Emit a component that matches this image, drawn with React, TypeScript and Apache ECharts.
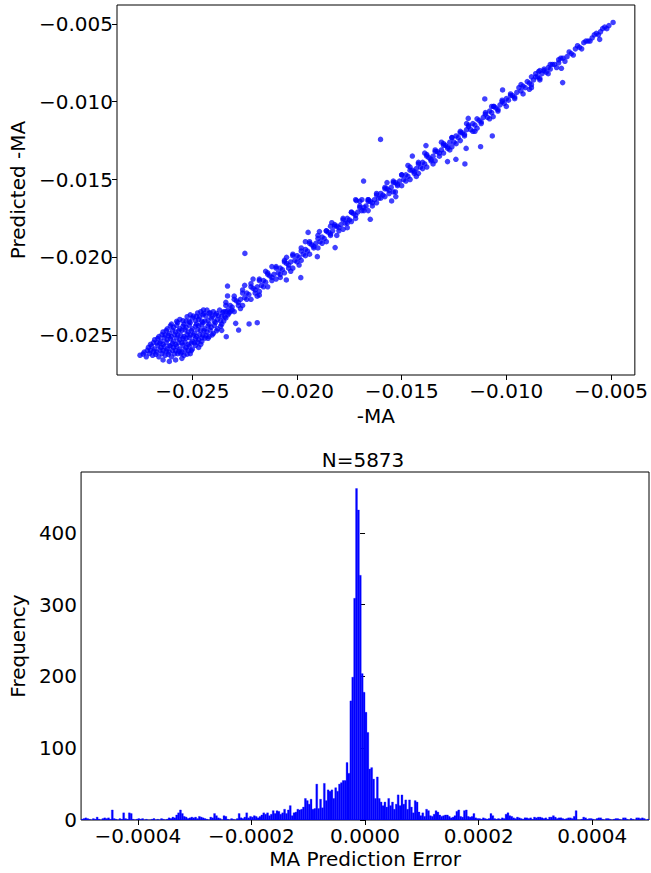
import React, { useEffect, useRef } from 'react';
import * as echarts from 'echarts';

const FONT = 'DejaVu Sans';
const BLUE = '#0000ff';

// ---- top panel: actual vs predicted -MA ----
const topXTicks = [-0.025, -0.02, -0.015, -0.01, -0.005];
const topYTicks = [-0.025, -0.02, -0.015, -0.01, -0.005];

const bandPoints: [number, number][] = [
  [-0.0049,-0.0049],[-0.0051,-0.0051],[-0.0053,-0.0052],[-0.0055,-0.0055],[-0.0057,-0.0056],[-0.0059,-0.0059],
  [-0.0061,-0.0061],[-0.0063,-0.0062],[-0.0065,-0.0065],[-0.0067,-0.0066],[-0.0069,-0.0069],[-0.0071,-0.0071],
  [-0.0073,-0.0072],[-0.0075,-0.0075],[-0.0077,-0.0076],[-0.0079,-0.0079],[-0.0080,-0.0078],[-0.0081,-0.0081],
  [-0.0083,-0.0082],[-0.0084,-0.0085],[-0.0085,-0.0084],[-0.0087,-0.0086],[-0.0088,-0.0089],[-0.0089,-0.0088],
  [-0.0091,-0.0091],[-0.0092,-0.0090],[-0.0093,-0.0093],[-0.0095,-0.0094],[-0.0096,-0.0097],[-0.0097,-0.0096],
  [-0.0099,-0.0099],[-0.0100,-0.0098],[-0.0101,-0.0101],[-0.0103,-0.0102],[-0.0104,-0.0105],[-0.0105,-0.0104],
  [-0.0107,-0.0107],[-0.0108,-0.0106],[-0.0109,-0.0110],[-0.0111,-0.0110],[-0.0112,-0.0113],[-0.0113,-0.0112],
  [-0.0115,-0.0115],[-0.0116,-0.0114],[-0.0117,-0.0118],[-0.0119,-0.0118],[-0.0120,-0.0121],[-0.0121,-0.0120],
  [-0.0123,-0.0123],[-0.0124,-0.0122],[-0.0125,-0.0126],[-0.0127,-0.0126],[-0.0128,-0.0129],[-0.0129,-0.0128],
  [-0.0131,-0.0131],[-0.0132,-0.0133],[-0.0133,-0.0132],[-0.0135,-0.0135],[-0.0136,-0.0137],[-0.0137,-0.0136],
  [-0.0139,-0.0140],[-0.0140,-0.0139],[-0.0141,-0.0142],[-0.0143,-0.0143],[-0.0144,-0.0145],[-0.0145,-0.0144],
  [-0.0147,-0.0148],[-0.0148,-0.0147],[-0.0149,-0.0150],[-0.0151,-0.0151],[-0.0152,-0.0153],[-0.0153,-0.0152],
  [-0.0155,-0.0155],[-0.0156,-0.0157],[-0.0157,-0.0156],[-0.0159,-0.0160],[-0.0160,-0.0159],[-0.0161,-0.0162],
  [-0.0163,-0.0163],[-0.0164,-0.0165],[-0.0165,-0.0164],[-0.0167,-0.0167],[-0.0168,-0.0168],[-0.0169,-0.0170],
  [-0.0171,-0.0171],[-0.0172,-0.0173],[-0.0173,-0.0172],[-0.0175,-0.0176],[-0.0176,-0.0175],[-0.0177,-0.0178],
  [-0.0179,-0.0179],[-0.0180,-0.0181],[-0.0181,-0.0180],[-0.0183,-0.0183],[-0.0184,-0.0185],[-0.0185,-0.0184],
  [-0.0187,-0.0188],[-0.0188,-0.0187],[-0.0189,-0.0190],[-0.0191,-0.0191],[-0.0192,-0.0193],[-0.0193,-0.0192],
  [-0.0195,-0.0196],[-0.0196,-0.0195],[-0.0197,-0.0198],[-0.0199,-0.0200],[-0.0200,-0.0199],[-0.0201,-0.0202],
  [-0.0203,-0.0203],[-0.0204,-0.0205],[-0.0205,-0.0204],[-0.0207,-0.0208],[-0.0208,-0.0207],[-0.0209,-0.0210],
  [-0.0211,-0.0211],[-0.0212,-0.0213],[-0.0213,-0.0212],[-0.0215,-0.0216],[-0.0216,-0.0215],[-0.0217,-0.0218],
  [-0.0219,-0.0219],[-0.0220,-0.0221],[-0.0221,-0.0220],[-0.0223,-0.0224],[-0.0224,-0.0223],[-0.0225,-0.0226],
  [-0.0227,-0.0227],[-0.0228,-0.0229],[-0.0229,-0.0228],[-0.0231,-0.0232],[-0.0232,-0.0231],[-0.0233,-0.0234],
  [-0.0235,-0.0235],
];

const bandUpper: [number, number][] = [
  [-0.0054,-0.0053],[-0.0058,-0.0057],[-0.0062,-0.0061],[-0.0066,-0.0064],[-0.0070,-0.0068],[-0.0074,-0.0072],
  [-0.0078,-0.0076],[-0.0082,-0.0080],[-0.0086,-0.0084],[-0.0090,-0.0087],[-0.0094,-0.0091],[-0.0098,-0.0096],
  [-0.0102,-0.0100],[-0.0106,-0.0103],[-0.0110,-0.0108],[-0.0114,-0.0111],[-0.0118,-0.0116],[-0.0122,-0.0120],
  [-0.0126,-0.0123],[-0.0130,-0.0128],[-0.0134,-0.0132],[-0.0138,-0.0135],[-0.0142,-0.0140],[-0.0146,-0.0144],
  [-0.0150,-0.0147],[-0.0154,-0.0152],[-0.0158,-0.0156],[-0.0162,-0.0159],[-0.0166,-0.0164],[-0.0170,-0.0168],
  [-0.0174,-0.0171],[-0.0178,-0.0176],[-0.0182,-0.0180],[-0.0186,-0.0183],[-0.0190,-0.0188],[-0.0194,-0.0191],
  [-0.0198,-0.0196],[-0.0202,-0.0199],[-0.0206,-0.0203],[-0.0210,-0.0207],[-0.0214,-0.0211],[-0.0218,-0.0215],
  [-0.0222,-0.0219],[-0.0226,-0.0223],[-0.0230,-0.0227],[-0.0234,-0.0231],
];

const bandLower: [number, number][] = [
  [-0.0052,-0.0053],[-0.0056,-0.0057],[-0.0060,-0.0061],[-0.0064,-0.0066],[-0.0068,-0.0070],[-0.0072,-0.0074],
  [-0.0076,-0.0078],[-0.0080,-0.0082],[-0.0084,-0.0086],[-0.0088,-0.0091],[-0.0092,-0.0095],[-0.0096,-0.0098],
  [-0.0100,-0.0103],[-0.0104,-0.0106],[-0.0108,-0.0111],[-0.0112,-0.0114],[-0.0116,-0.0119],[-0.0120,-0.0122],
  [-0.0124,-0.0127],[-0.0128,-0.0130],[-0.0132,-0.0135],[-0.0136,-0.0138],[-0.0140,-0.0143],[-0.0144,-0.0146],
  [-0.0148,-0.0151],[-0.0152,-0.0154],[-0.0156,-0.0159],[-0.0160,-0.0162],[-0.0164,-0.0167],[-0.0168,-0.0170],
  [-0.0172,-0.0175],[-0.0176,-0.0178],[-0.0180,-0.0183],[-0.0184,-0.0186],[-0.0188,-0.0191],[-0.0192,-0.0194],
  [-0.0196,-0.0199],[-0.0200,-0.0203],[-0.0204,-0.0207],[-0.0208,-0.0211],[-0.0212,-0.0215],[-0.0216,-0.0219],
  [-0.0220,-0.0223],[-0.0224,-0.0227],[-0.0228,-0.0231],[-0.0232,-0.0235],
];

const spreadPoints: [number, number][] = [
  [-0.0086,-0.0082],[-0.0084,-0.0080],[-0.0088,-0.0084],[-0.0079,-0.0076],[-0.0075,-0.0073],[-0.0082,-0.0079],
  [-0.0098,-0.0095],[-0.0102,-0.0099],[-0.0106,-0.0103],[-0.0110,-0.0107],[-0.0114,-0.0117],[-0.0118,-0.0115],
  [-0.0122,-0.0119],[-0.0122,-0.0125],[-0.0126,-0.0123],[-0.0126,-0.0129],[-0.0130,-0.0127],[-0.0130,-0.0133],
  [-0.0134,-0.0131],[-0.0134,-0.0138],[-0.0138,-0.0134],[-0.0138,-0.0142],[-0.0142,-0.0139],[-0.0142,-0.0146],
  [-0.0146,-0.0142],[-0.0146,-0.0150],[-0.0150,-0.0147],[-0.0150,-0.0154],[-0.0154,-0.0151],[-0.0154,-0.0158],
  [-0.0158,-0.0155],[-0.0158,-0.0161],[-0.0162,-0.0160],[-0.0162,-0.0165],[-0.0166,-0.0163],[-0.0166,-0.0170],
  [-0.0170,-0.0167],[-0.0174,-0.0171],[-0.0174,-0.0177],[-0.0178,-0.0175],[-0.0178,-0.0182],[-0.0182,-0.0179],
  [-0.0186,-0.0183],[-0.0186,-0.0190],[-0.0190,-0.0186],[-0.0190,-0.0194],[-0.0194,-0.0190],[-0.0194,-0.0198],
  [-0.0198,-0.0194],[-0.0198,-0.0202],[-0.0202,-0.0198],[-0.0202,-0.0207],[-0.0206,-0.0202],[-0.0206,-0.0210],
  [-0.0210,-0.0206],[-0.0210,-0.0214],[-0.0214,-0.0210],[-0.0214,-0.0219],[-0.0218,-0.0214],[-0.0218,-0.0222],
  [-0.0222,-0.0217],[-0.0222,-0.0227],[-0.0226,-0.0221],[-0.0226,-0.0231],[-0.0230,-0.0225],[-0.0230,-0.0235],
  [-0.0234,-0.0229],[-0.0234,-0.0239],[-0.0172,-0.0163],[-0.0169,-0.0163],[-0.0166,-0.0163],
  [-0.0212,-0.0206],[-0.0208,-0.0213],[-0.0205,-0.0200],[-0.0215,-0.0209],[-0.0203,-0.0209],[-0.0219,-0.0225],
  [-0.0221,-0.0214],[-0.0225,-0.0218],[-0.0227,-0.0233],[-0.0199,-0.0205],[-0.0196,-0.0190],[-0.0184,-0.0180],
  [-0.0181,-0.0186],[-0.0170,-0.0164],[-0.0176,-0.0181],[-0.0157,-0.0152],[-0.0153,-0.0158],[-0.0147,-0.0141],
  [-0.0143,-0.0148],[-0.0139,-0.0133],[-0.0135,-0.0140],[-0.0131,-0.0126],[-0.0127,-0.0131],[-0.0119,-0.0114],
  [-0.0115,-0.0119],[-0.0107,-0.0103],[-0.0093,-0.0089],[-0.0089,-0.0092],
];

const blobPoints: [number, number][] = [
  [-0.0264,-0.0266],[-0.0261,-0.0267],[-0.0258,-0.0266],[-0.0255,-0.0265],
  [-0.0275,-0.0263],[-0.0272,-0.0264],[-0.0269,-0.0263],[-0.0266,-0.0264],[-0.0263,-0.0263],[-0.0260,-0.0264],
  [-0.0257,-0.0262],[-0.0254,-0.0263],[-0.0251,-0.0262],
  [-0.0273,-0.0261],[-0.0270,-0.0260],[-0.0267,-0.0261],[-0.0264,-0.0260],[-0.0261,-0.0261],[-0.0258,-0.0260],
  [-0.0255,-0.0261],[-0.0252,-0.0260],
  [-0.0271,-0.0258],[-0.0268,-0.0259],[-0.0265,-0.0258],[-0.0262,-0.0259],[-0.0259,-0.0258],[-0.0256,-0.0259],
  [-0.0253,-0.0258],[-0.0250,-0.0259],[-0.0247,-0.0258],
  [-0.0270,-0.0256],[-0.0267,-0.0255],[-0.0264,-0.0256],[-0.0261,-0.0257],[-0.0258,-0.0256],[-0.0255,-0.0255],
  [-0.0252,-0.0256],[-0.0249,-0.0255],[-0.0246,-0.0256],
  [-0.0268,-0.0253],[-0.0265,-0.0254],[-0.0262,-0.0253],[-0.0259,-0.0254],[-0.0256,-0.0253],[-0.0253,-0.0252],
  [-0.0250,-0.0254],[-0.0247,-0.0253],[-0.0244,-0.0252],
  [-0.0266,-0.0251],[-0.0263,-0.0250],[-0.0260,-0.0251],[-0.0257,-0.0250],[-0.0254,-0.0251],[-0.0251,-0.0250],
  [-0.0248,-0.0251],[-0.0245,-0.0250],[-0.0242,-0.0251],
  [-0.0264,-0.0248],[-0.0261,-0.0249],[-0.0258,-0.0248],[-0.0255,-0.0247],[-0.0252,-0.0248],[-0.0249,-0.0249],
  [-0.0246,-0.0247],[-0.0243,-0.0248],[-0.0240,-0.0249],
  [-0.0262,-0.0246],[-0.0259,-0.0245],[-0.0256,-0.0246],[-0.0253,-0.0245],[-0.0250,-0.0246],[-0.0247,-0.0244],
  [-0.0244,-0.0246],[-0.0241,-0.0245],[-0.0238,-0.0246],[-0.0236,-0.0247],
  [-0.0260,-0.0243],[-0.0257,-0.0242],[-0.0254,-0.0243],[-0.0251,-0.0242],[-0.0248,-0.0243],[-0.0245,-0.0242],
  [-0.0242,-0.0243],[-0.0239,-0.0242],[-0.0236,-0.0243],
  [-0.0256,-0.0240],[-0.0253,-0.0241],[-0.0250,-0.0239],[-0.0247,-0.0240],[-0.0244,-0.0241],[-0.0241,-0.0239],
  [-0.0238,-0.0240],[-0.0235,-0.0241],
  [-0.0251,-0.0237],[-0.0248,-0.0238],[-0.0245,-0.0237],[-0.0242,-0.0236],[-0.0239,-0.0237],[-0.0236,-0.0238],
  [-0.0233,-0.0237],
  [-0.0246,-0.0235],[-0.0243,-0.0234],[-0.0240,-0.0235],[-0.0237,-0.0234],[-0.0234,-0.0235],[-0.0231,-0.0234],
];

const blobFill: [number, number][] = [
  [-0.02735,-0.02622],[-0.02705,-0.02618],[-0.02675,-0.02624],[-0.02645,-0.02619],[-0.02615,-0.02625],[-0.02585,-0.02621],[-0.02555,-0.02618],[-0.02525,-0.02623],
  [-0.02715,-0.02598],[-0.02685,-0.02603],[-0.02655,-0.02597],[-0.02625,-0.02602],[-0.02595,-0.02599],[-0.02565,-0.02604],[-0.02535,-0.02596],[-0.02505,-0.02601],
  [-0.02695,-0.02572],[-0.02665,-0.02568],[-0.02635,-0.02574],[-0.02605,-0.02569],[-0.02575,-0.02573],[-0.02545,-0.02567],[-0.02515,-0.02571],[-0.02485,-0.02566],
  [-0.02685,-0.02548],[-0.02655,-0.02552],[-0.02625,-0.02547],[-0.02595,-0.02553],[-0.02565,-0.02549],[-0.02535,-0.02546],[-0.02505,-0.02551],[-0.02475,-0.02547],[-0.02455,-0.02541],
  [-0.02665,-0.02522],[-0.02635,-0.02518],[-0.02605,-0.02524],[-0.02575,-0.02519],[-0.02545,-0.02523],[-0.02515,-0.02517],[-0.02485,-0.02522],[-0.02455,-0.02518],[-0.02425,-0.02521],
  [-0.02645,-0.02498],[-0.02615,-0.02503],[-0.02585,-0.02497],[-0.02555,-0.02502],[-0.02525,-0.02496],[-0.02495,-0.02501],[-0.02465,-0.02497],[-0.02435,-0.02503],[-0.02405,-0.02499],
  [-0.02625,-0.02472],[-0.02595,-0.02468],[-0.02565,-0.02473],[-0.02535,-0.02467],[-0.02505,-0.02471],[-0.02475,-0.02466],[-0.02445,-0.02472],[-0.02415,-0.02468],[-0.02385,-0.02473],
  [-0.02605,-0.02441],[-0.02575,-0.02438],[-0.02545,-0.02443],[-0.02515,-0.02437],[-0.02485,-0.02442],[-0.02455,-0.02436],[-0.02425,-0.02441],[-0.02395,-0.02438],[-0.02365,-0.02443],
  [-0.02575,-0.02412],[-0.02545,-0.02408],[-0.02515,-0.02413],[-0.02485,-0.02407],[-0.02455,-0.02411],[-0.02425,-0.02406],[-0.02395,-0.02412],[-0.02365,-0.02409],
  [-0.02525,-0.02382],[-0.02495,-0.02378],[-0.02465,-0.02383],[-0.02435,-0.02377],[-0.02405,-0.02381],[-0.02375,-0.02376],[-0.02345,-0.02382],
  [-0.02475,-0.02358],[-0.02445,-0.02362],[-0.02415,-0.02357],[-0.02385,-0.02361],[-0.02355,-0.02356],[-0.02325,-0.02359],
];

const outlierPoints: [number, number][] = [
  [-0.00554,-0.00599],[-0.00731,-0.00877],[-0.00737,-0.00785],[-0.00846,-0.00806],[-0.01018,-0.00924],
  [-0.01103,-0.00982],[-0.01067,-0.01220],[-0.01063,-0.01096],[-0.01182,-0.01107],[-0.01123,-0.01289],
  [-0.01192,-0.01300],[-0.01198,-0.01400],[-0.01281,-0.01385],[-0.01241,-0.01370],[-0.01384,-0.01282],
  [-0.01449,-0.01349],[-0.01601,-0.01242],[-0.01682,-0.01510],[-0.01716,-0.01636],[-0.01650,-0.01756],
  [-0.01548,-0.01638],[-0.01528,-0.01610],[-0.01834,-0.01778],[-0.01893,-0.01835],[-0.01947,-0.01840],
  [-0.01903,-0.01996],[-0.01818,-0.01938],[-0.02249,-0.01975],[-0.01982,-0.02131],[-0.02051,-0.02146],
  [-0.02332,-0.02185],[-0.02180,-0.02243],[-0.02190,-0.02421],[-0.02229,-0.02429],[-0.02293,-0.02425],
  [-0.02332,-0.02249],[-0.02447,-0.02339],[-0.02279,-0.02468],[-0.02338,-0.02511],
];

// ---- bottom panel: histogram of prediction error ----
const histTitle = 'N=5873';
const histXTicks = [-0.0004, -0.0002, 0, 0.0002, 0.0004];
const histYTicks = [0, 100, 200, 300, 400];
const binStart = -0.0005;
const binWidth = 0.001 / 300;
const histCounts = [
  1,2,3,2,1,0,2,1,4,1,
  0,2,3,2,3,1,14,2,1,0,
  2,1,10,2,1,10,9,1,0,1,
  2,1,2,0,1,0,0,1,2,0,
  1,0,2,1,0,1,3,2,4,3,
  7,10,14,9,5,4,2,3,4,3,
  4,2,5,4,3,2,1,0,4,3,
  9,6,3,2,0,6,5,1,0,2,
  1,0,2,9,3,2,4,10,3,5,
  4,6,5,3,5,7,10,8,10,6,
  8,13,9,13,12,8,10,15,9,14,
  20,6,10,11,15,14,15,18,30,27,
  22,29,15,16,50,16,29,17,51,27,
  42,40,42,30,45,40,50,52,55,55,
  80,65,166,199,309,462,432,341,204,178,
  150,122,71,73,57,30,60,30,25,20,
  25,18,30,20,25,15,22,35,20,35,
  22,28,15,28,18,10,27,25,11,6,
  10,5,15,13,6,5,8,13,11,7,
  5,6,7,7,5,3,4,6,12,14,
  5,4,13,14,5,4,5,9,3,2,
  2,1,3,2,1,2,9,6,2,1,
  2,1,3,2,8,10,6,5,3,2,
  4,3,2,1,3,3,2,3,1,4,
  3,4,4,3,2,3,1,4,4,6,
  4,2,3,3,2,1,2,3,3,2,
  5,13,0,0,1,4,3,1,2,2,
  1,0,2,3,3,1,0,2,2,1,
  0,1,2,2,1,0,3,3,1,0,
  2,1,0,3,3,2,3,2,0,1,
];

const minus = (s: string) => s.replace('-', '\u2212');

export default function App() {
  const ref = useRef<HTMLDivElement>(null);
  useEffect(() => {
    const chart = echarts.init(ref.current!, undefined, { renderer: 'svg' });
    const txt = { fontSize: 20, color: '#000', fontFamily: FONT };
    const histData = histCounts.map((c, i) => [binStart + i * binWidth, binStart + (i + 1) * binWidth, c]);
    const scatterData = [...bandPoints, ...bandUpper, ...bandLower, ...spreadPoints, ...blobPoints, ...blobFill, ...outlierPoints];
    const option: any = {
      animation: false,
      backgroundColor: '#fff',
      textStyle: { fontFamily: FONT },
      grid: [
        { left: 117, top: 5, width: 522, height: 370, show: true, borderColor: '#000', borderWidth: 1, backgroundColor: 'transparent' },
        { left: 77, top: 472, width: 572, height: 348, show: true, borderColor: '#000', borderWidth: 1, backgroundColor: 'transparent' },
      ],
      xAxis: [
        {
          type: 'value', gridIndex: 0, min: -0.0286, max: -0.00386,
          name: '-MA', nameLocation: 'middle', nameGap: 31, nameTextStyle: txt,
          axisLine: { show: false }, splitLine: { show: false },
          axisTick: { show: true, length: 5, lineStyle: { color: '#000' }, customValues: topXTicks },
          axisLabel: { customValues: topXTicks, formatter: (v: number) => minus(v.toFixed(3)), margin: 6, ...txt },
        },
        {
          type: 'value', gridIndex: 1, min: -0.0005, max: 0.0005,
          name: 'MA Prediction Error', nameLocation: 'middle', nameGap: 29, nameTextStyle: txt,
          axisLine: { show: false }, splitLine: { show: false },
          axisTick: { show: true, length: 5, lineStyle: { color: '#000' }, customValues: histXTicks },
          axisLabel: { customValues: histXTicks, formatter: (v: number) => minus(v.toFixed(4)), margin: 6, ...txt },
        },
      ],
      yAxis: [
        {
          type: 'value', gridIndex: 0, min: -0.02757, max: -0.00378,
          name: 'Predicted -MA', nameLocation: 'middle', nameGap: 84, nameRotate: 90, nameTextStyle: txt,
          axisLine: { show: false }, splitLine: { show: false },
          axisTick: { show: true, length: 5, lineStyle: { color: '#000' }, customValues: topYTicks },
          axisLabel: { customValues: topYTicks, formatter: (v: number) => minus(v.toFixed(3)), margin: 4, ...txt },
        },
        {
          type: 'value', gridIndex: 1, min: 0, max: 485,
          name: 'Frequency', nameLocation: 'middle', nameGap: 44, nameRotate: 90, nameTextStyle: txt,
          axisLine: { show: false }, splitLine: { show: false },
          axisTick: { show: true, length: 5, lineStyle: { color: '#000' }, customValues: histYTicks },
          axisLabel: { customValues: histYTicks, formatter: (v: number) => String(Math.round(v)), margin: 4, ...txt },
        },
      ],
      graphic: [
        {
          type: 'text', x: 363, y: 460,
          style: { text: histTitle, align: 'center', verticalAlign: 'middle', fontSize: 20, fill: '#000', fontFamily: FONT },
        },
      ],
      series: [
        {
          type: 'scatter', xAxisIndex: 0, yAxisIndex: 0, data: scatterData,
          symbolSize: 5.5, itemStyle: { color: BLUE, opacity: 0.75 }, silent: true,
        },
        {
          type: 'custom', xAxisIndex: 1, yAxisIndex: 1, data: histData, silent: true, clip: true,
          encode: { x: [0, 1], y: 2 },
          renderItem: (params: any, api: any) => {
            const p0 = api.coord([api.value(0), 0]);
            const p1 = api.coord([api.value(1), api.value(2)]);
            return {
              type: 'rect',
              shape: { x: p0[0], y: p1[1], width: p1[0] - p0[0], height: p0[1] - p1[1] },
              style: { fill: BLUE, stroke: BLUE, lineWidth: 0.3 },
            };
          },
        },
      ],
    };
    chart.setOption(option);
    return () => chart.dispose();
  }, []);
  return <div ref={ref} style={{ position: 'absolute', left: 0, top: 0, width: 651, height: 873 }} />;
}
